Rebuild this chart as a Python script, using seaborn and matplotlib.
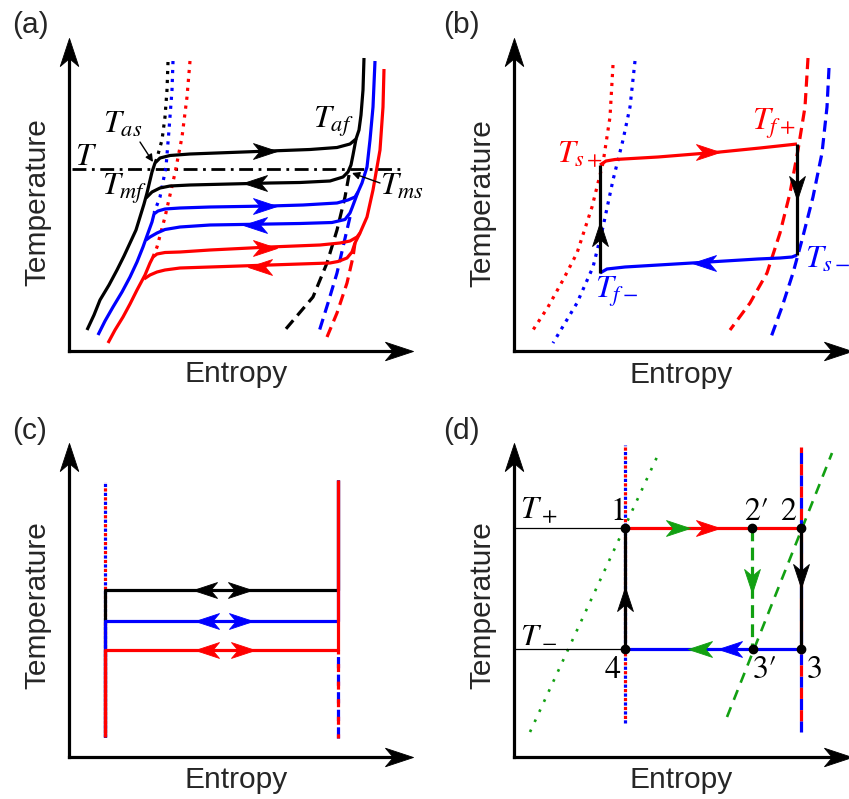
import numpy as np
import matplotlib
matplotlib.use("Agg")
import matplotlib.pyplot as plt
import seaborn as sns
from matplotlib.path import Path
from matplotlib.markers import MarkerStyle
from matplotlib.transforms import Affine2D

# ---------------- schematic data (entropy S, temperature T) ----------------
# panel (a): hysteresis loops for three fields
A_BLK_HEAT = [(18, 21), (25, 36), (31, 51), (40, 66), (48, 81), (55, 95), (61, 108), (67, 121), (71, 134),
              (75, 147), (78, 158), (83, 179), (86, 188),
              (91, 193), (101, 195.5), (121, 197), (161, 198.5), (201, 200), (241, 201.5),
              (268, 203.5), (281, 207), (287, 212), (290, 221), (292, 236), (294, 261), (295, 293)]
A_BLK_COOL = [(287, 212), (284, 196), (282, 186), (279, 179), (274, 174), (261, 170), (231, 168.5),
              (201, 168), (161, 167), (121, 166), (101, 165), (91, 163), (83, 159), (77, 153)]
A_BLK_DOT = [(99, 289), (98, 261), (96, 234), (93, 211), (88, 193), (86, 188)]
A_BLK_DASH = [(280, 176), (276, 154), (268, 121), (258, 88), (244, 54), (216, 21)]

A_BLU_HEAT = [(29, 16), (36, 30), (44, 44), (53, 59), (61, 74), (68, 89), (74, 104), (79, 118), (83, 129),
              (85, 137), (89, 140),
              (96, 142), (111, 143), (141, 144), (201, 145), (234, 146), (268, 148), (279, 151),
              (286, 154), (289, 159), (293, 168), (298, 184), (301, 211), (304, 244), (306, 290)]
A_BLU_COOL = [(289, 159), (286, 151), (283, 143), (281, 138), (276, 131.5), (263, 128.5), (231, 127.5),
              (201, 127), (141, 126), (111, 124), (96, 121.5), (88, 118), (81, 114), (77, 111)]
A_BLU_DOT = [(104, 290), (103, 261), (100, 221), (97, 184), (91, 154), (85, 138)]
A_BLU_DASH = [(281, 134), (274, 104), (268, 78), (259, 48), (249, 16)]

A_RED_HEAT = [(39, 8), (46, 21), (54, 34), (61, 47), (68, 61), (76, 76), (81, 88), (84, 94), (88, 97),
              (96, 98.5),
              (111, 99), (141, 101), (201, 104), (251, 106), (271, 108), (281, 110), (288, 114),
              (291, 118), (298, 134), (304, 161), (311, 201), (314, 244), (315, 282)]
A_RED_COOL = [(291, 118), (286, 108), (283, 99), (278, 93), (269, 89.5), (261, 88), (231, 87),
              (201, 86), (141, 84), (111, 83), (96, 81), (88, 79), (81, 76), (75, 72)]
A_RED_DOT = [(121, 290), (118, 254), (113, 214), (106, 178), (96, 134), (88, 104), (84, 94)]
A_RED_DASH = [(286, 108), (284, 94), (278, 68), (268, 38), (258, 14)]

A_T_LINE = [(3, 182), (334, 182)]
A_HEAT_ARROWS = [(208, 200), (208, 145), (208, 103)]      # black, blue, red
A_COOL_ARROWS = [(174, 168), (174, 126), (179, 84)]

# panel (b): cycle between two fields
B_RED_DOT = [(99, 286), (96, 234), (89, 188), (78, 144), (63, 98), (49, 71), (34, 44), (19, 21)]
B_BLU_DOT = [(121, 290), (116, 244), (109, 211), (99, 171), (89, 124), (79, 84), (63, 48), (39, 8)]
B_RED_DASH = [(294, 293), (291, 244), (284, 201), (276, 158), (266, 118), (253, 78), (236, 48), (216, 21)]
B_BLU_DASH = [(315, 283), (313, 244), (308, 198), (299, 154), (288, 111), (279, 78), (268, 44), (256, 11)]
B_RED_HEAT = [(86, 186), (92, 190), (101, 191.5), (144, 194), (206, 199), (246, 203), (283, 207)]
B_BLK_DOWN = [(283, 207), (283, 96)]
B_BLU_COOL = [(283, 96), (278, 94), (266, 93), (244, 92), (178, 88), (111, 84), (93, 82), (86, 78)]
B_BLK_UP = [(86, 78), (86, 186)]

# panel (c): ideal loops
C_S_LEFT, C_S_RIGHT = 36, 269
C_T_BOTTOM, C_T_TOP = 20, 277
C_LEVELS = [167, 136, 107]            # black, blue, red
C_ARROW_LEFT = [124, 126, 126]
C_ARROW_RIGHT = [183, 184, 186]

# panel (d): ideal cycle
D_S1, D_S2P, D_S2 = 111, 238, 287
D_TP, D_TM = 229, 108
D_GREEN_DOT = [(16, 25), (143, 300)]
D_GREEN_DASH = [(213, 40), (318, 304)]
D_DOT_VERT = [(111, 34), (111, 312)]
D_DASH_VERT = [(287, 25), (287, 310)]

# ---------------- style ----------------
sns.set_style("white")
plt.rcParams["font.family"] = ["Liberation Sans", "DejaVu Sans"]
plt.rcParams["mathtext.fontset"] = "stix"

RED, BLUE, BLACK, GREEN = "#ff0000", "#0000ff", "#000000", "#12a012"
LW = 2.3
FS = 21.5
MFS = 23
DOT = (0, (1, 1.8))
DASH = (0, (3.5, 2.0))

W_FIG, H_FIG = 849, 799
fig = plt.figure(figsize=(W_FIG / 100, H_FIG / 100), dpi=100)

HEAD = Path([(0, 0), (-1, 0.33), (-0.72, 0), (-1, -0.33), (0, 0)],
            [Path.MOVETO, Path.LINETO, Path.LINETO, Path.LINETO, Path.CLOSEPOLY])


def head(ax, s, t, ang, color, length_px=24):
    m = MarkerStyle(HEAD, transform=Affine2D().rotate_deg(ang))
    ax.plot([s], [t], linestyle="none", marker=m, markersize=2 * length_px * 0.72,
            color=color, markeredgewidth=0.6, markeredgecolor=color, clip_on=False, zorder=8)


def curve(ax, pts, color, lw=LW, ls="-", z=3):
    p = np.asarray(pts, dtype=float)
    sns.lineplot(x=p[:, 0], y=p[:, 1], sort=False, estimator=None, ax=ax, color=color,
                 linewidth=lw, linestyle=ls, zorder=z, clip_on=False,
                 solid_joinstyle="round", solid_capstyle="butt")


def panel(ox, oy, W, H, letter, xl_t=-31, yl_t=149):
    ax = fig.add_axes([ox / W_FIG, (H_FIG - oy) / H_FIG, W / W_FIG, H / H_FIG])
    ax.patch.set_alpha(0)
    ax.set_xticks([]); ax.set_yticks([])
    for side in ("top", "right"):
        ax.spines[side].set_visible(False)
    for side in ("left", "bottom"):
        ax.spines[side].set_linewidth(LW)
        ax.spines[side].set_color(BLACK)
        ax.spines[side].set_capstyle("projecting")
    ax.spines["left"].set_bounds(0, H - 16)
    ax.spines["bottom"].set_bounds(0, W - 16)
    head(ax, W, 0, 0, BLACK, 28)
    head(ax, 0, H, 90, BLACK, 28)
    ax.text(167, xl_t, "Entropy", fontsize=FS, ha="center", va="baseline")
    ax.text(-24, yl_t, "Temperature", fontsize=FS, rotation=90, rotation_mode="anchor",
            ha="center", va="baseline")
    ax.text(-57 if letter in "ac" else -71, 318, f"({letter})", fontsize=FS, ha="left", va="baseline")
    return ax


def finish(ax, W, H):
    ax.set_xlim(0, W)
    ax.set_ylim(0, H)


def mlab(ax, s, t, txt, color=BLACK):
    ax.text(s, t, txt, fontsize=MFS, color=color, ha="left", va="baseline")


def nlab(ax, s, t, txt):
    ax.text(s, t, txt, fontsize=MFS, color=BLACK, ha="left", va="baseline",
            family=["STIXGeneral", "DejaVu Serif"])


# ---------------- panel (a) ----------------
ax = panel(69, 351, 344, 313, "a", xl_t=-31, yl_t=148.5)
curve(ax, A_T_LINE, BLACK, lw=2.0, ls=(0, (5, 2, 1, 2)), z=2)
for dot, col in ((A_BLK_DOT, BLACK), (A_BLU_DOT, BLUE), (A_RED_DOT, RED)):
    curve(ax, dot, col, ls=DOT, z=2)
for dash, col in ((A_BLK_DASH, BLACK), (A_BLU_DASH, BLUE), (A_RED_DASH, RED)):
    curve(ax, dash, col, ls=DASH, z=2)
for heat, cool, col in ((A_BLK_HEAT, A_BLK_COOL, BLACK), (A_BLU_HEAT, A_BLU_COOL, BLUE),
                        (A_RED_HEAT, A_RED_COOL, RED)):
    curve(ax, heat, col)
    curve(ax, cool, col)
for (s, t), col in zip(A_HEAT_ARROWS, (BLACK, BLUE, RED)):
    head(ax, s, t, 0, col)
for (s, t), col in zip(A_COOL_ARROWS, (BLACK, BLUE, RED)):
    head(ax, s, t, 180, col)
mlab(ax, 6, 186, r"$T$")
mlab(ax, 34, 218, r"$T_{as}$")
mlab(ax, 33, 156, r"$T_{mf}$")
mlab(ax, 244, 223, r"$T_{af}$")
mlab(ax, 311, 156, r"$T_{ms}$")
ax.annotate("", xy=(84, 189), xytext=(71, 209),
            arrowprops=dict(arrowstyle="-|>", color=BLACK, lw=1.0, mutation_scale=11,
                            shrinkA=0, shrinkB=0))
ax.annotate("", xy=(283, 178), xytext=(311, 168),
            arrowprops=dict(arrowstyle="-|>", color=BLACK, lw=1.0, mutation_scale=11,
                            shrinkA=0, shrinkB=0))
finish(ax, 344, 313)

# ---------------- panel (b) ----------------
ax = panel(514, 351, 338, 313, "b", xl_t=-32, yl_t=148)
curve(ax, B_RED_DOT, RED, ls=DOT, z=2)
curve(ax, B_BLU_DOT, BLUE, ls=DOT, z=2)
curve(ax, B_RED_DASH, RED, ls=DASH, z=2)
curve(ax, B_BLU_DASH, BLUE, ls=DASH, z=2)
curve(ax, B_RED_HEAT, RED)
curve(ax, B_BLU_COOL, BLUE)
curve(ax, B_BLK_DOWN, BLACK, z=4)
curve(ax, B_BLK_UP, BLACK, z=4)
head(ax, B_BLK_UP[0][0], 129, 90, BLACK)
head(ax, 206, 199, 0, RED)
head(ax, B_BLK_DOWN[0][0], 151, -90, BLACK)
head(ax, 178, 88, 180, BLUE)
mlab(ax, 43, 189, r"$T_{s+}$", RED)
mlab(ax, 238, 221, r"$T_{f+}$", RED)
mlab(ax, 291, 83, r"$T_{s-}$", BLUE)
mlab(ax, 81, 53, r"$T_{f-}$", BLUE)
finish(ax, 338, 313)

# ---------------- panel (c) ----------------
ax = panel(69, 757, 344, 314, "c", xl_t=-31, yl_t=152)
curve(ax, [(C_S_LEFT, C_T_BOTTOM), (C_S_LEFT, 275)], BLUE, ls=(0, (1, 1.8)), z=2)
curve(ax, [(C_S_LEFT, C_T_BOTTOM), (C_S_LEFT, 275)], RED, ls=(1.4, (1, 1.8)), z=2)
curve(ax, [(C_S_RIGHT, 19), (C_S_RIGHT, C_LEVELS[2])], BLUE, ls=(0, (3.5, 2.0)), z=2)
curve(ax, [(C_S_RIGHT, 19), (C_S_RIGHT, C_LEVELS[2])], RED, ls=(1.2, (2.5, 3.0)), z=2)
for lvl, col, zz in zip(C_LEVELS, (BLACK, BLUE, RED), (3, 4, 5)):
    curve(ax, [(C_S_LEFT, C_T_BOTTOM), (C_S_LEFT, lvl), (C_S_RIGHT, lvl), (C_S_RIGHT, C_T_TOP)],
          col, z=zz)
for lvl, sl, sr, col in zip(C_LEVELS, C_ARROW_LEFT, C_ARROW_RIGHT, (BLACK, BLUE, RED)):
    head(ax, sl, lvl, 180, col)
    head(ax, sr, lvl, 0, col)
finish(ax, 344, 314)

# ---------------- panel (d) ----------------
ax = panel(514, 757, 338, 314, "d", xl_t=-31, yl_t=152)
curve(ax, D_GREEN_DOT, GREEN, lw=1.9, ls=(0, (1, 3.2)), z=2)
curve(ax, D_GREEN_DASH, GREEN, lw=1.9, ls=(0, (4, 3)), z=2)
curve(ax, D_DOT_VERT, BLUE, ls=(0, (1, 1.8)), z=2)
curve(ax, D_DOT_VERT, RED, ls=(1.4, (1, 1.8)), z=2)
curve(ax, D_DASH_VERT, BLUE, ls=(0, (3.5, 3.5)), z=2)
curve(ax, D_DASH_VERT, RED, ls=(3.5, (3.5, 3.5)), z=2)
curve(ax, [(0, D_TP), (D_S1, D_TP)], BLACK, lw=0.9, z=2)
curve(ax, [(0, D_TM), (D_S1, D_TM)], BLACK, lw=0.9, z=2)
curve(ax, [(D_S1, D_TP), (D_S2, D_TP)], RED, z=3)
curve(ax, [(D_S2, D_TM), (D_S1, D_TM)], BLUE, z=3)
curve(ax, [(D_S2, D_TP), (D_S2, D_TM)], BLACK, z=4)
curve(ax, [(D_S1, D_TM), (D_S1, D_TP)], BLACK, z=4)
curve(ax, [(D_S2P, D_TP), (D_S2P, D_TM)], GREEN, ls=(0, (4, 2)), z=4)
head(ax, 206, D_TP, 0, RED)
head(ax, 176, D_TP, 0, GREEN)
head(ax, 204, D_TM, 180, BLUE)
head(ax, 174, D_TM, 180, GREEN)
head(ax, D_S2, 169, -90, BLACK)
head(ax, D_S1, 170, 90, BLACK)
head(ax, D_S2P, 164, -90, GREEN)
pts = np.array([(D_S1, D_TP), (D_S2P, D_TP), (D_S2, D_TP), (D_S2, D_TM), (D_S2P + 1, D_TM), (D_S1, D_TM)])
ax.plot(pts[:, 0], pts[:, 1], linestyle="none", marker="o", markersize=6, color=BLACK,
        zorder=9, clip_on=False)
mlab(ax, 6, 239, r"$T_+$")
mlab(ax, 6, 115, r"$T_-$")
nlab(ax, 96, 237, "1")
nlab(ax, 230, 237, "2\u2032")
nlab(ax, 266, 237, "2")
nlab(ax, 91, 79, "4")
nlab(ax, 239, 79, "3\u2032")
nlab(ax, 293, 79, "3")
finish(ax, 338, 314)

fig.savefig("out.png", dpi=100)
